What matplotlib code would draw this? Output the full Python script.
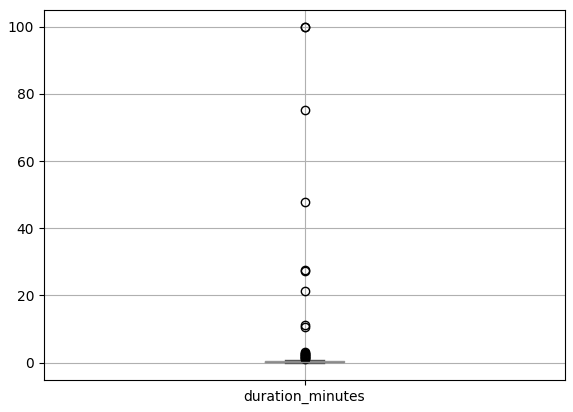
import matplotlib
matplotlib.use("Agg")
import matplotlib.pyplot as plt
import pandas as pd

core_values = [0.1, 0.1, 0.1, 0.1, 0.1, 0.1, 0.1, 0.1, 0.1, 0.1,
               0.1, 0.1, 0.1, 0.1, 0.1, 0.1, 0.1, 0.1, 0.1, 0.1,
               0.1, 0.1, 0.1, 0.1, 0.1, 0.1, 0.1, 0.1, 0.1, 0.1,
               0.1, 0.1, 0.1, 0.1, 0.1, 0.1, 0.1, 0.1, 0.1, 0.1,
               0.1, 0.1, 0.1, 0.1, 0.1, 0.1, 0.1, 0.1, 0.1, 0.1,
               0.1, 0.1, 0.1, 0.1, 0.1, 0.1, 0.1, 0.1, 0.1, 0.1]
small_outliers = [-0.2, -0.1, 0.0, 0.2, 0.3, 0.4, 0.6, 0.8,
                  1.0, 1.2, 1.4, 1.6, 1.8, 2.0, 2.2, 2.4, 2.6, 2.8, 3.0]
large_outliers = [10.7, 11.2, 21.4, 27.3, 27.6, 47.8, 75.2, 100.0, 100.0]

values = core_values + small_outliers + large_outliers
df = pd.DataFrame({"duration_minutes": values})

fig = plt.figure(figsize=(5.73, 4.12), dpi=100)
ax = fig.add_axes([44 / 573, 1 - 380 / 412, 521 / 573, 370 / 412])
df.boxplot(column="duration_minutes", ax=ax,
           color=dict(boxes="#9a9a9a", whiskers="#9a9a9a",
                      medians="#8a8a8a", caps="#555555"))
fig.savefig("out.png", dpi=100)
